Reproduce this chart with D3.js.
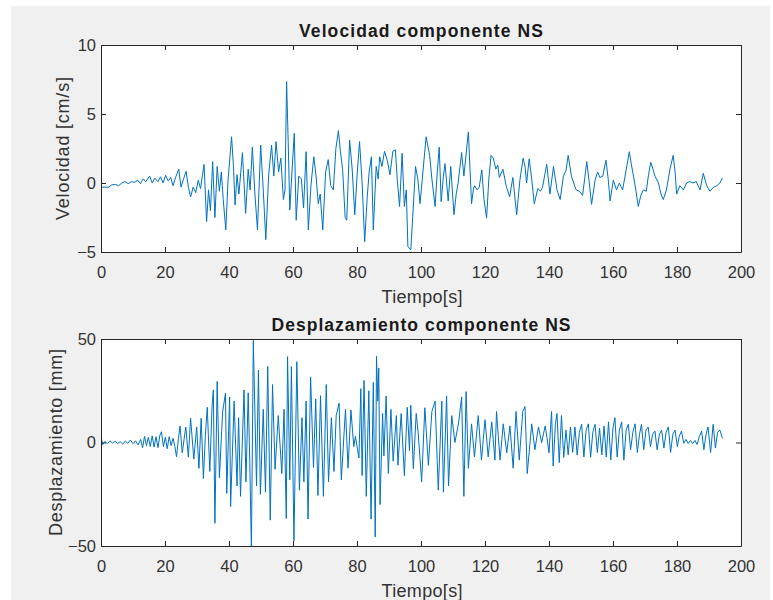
<!DOCTYPE html>
<html>
  <head>
    <meta charset=utf-8 />
    <title>Velocidad y desplazamiento NS</title>
    <script src="https://cdnjs.cloudflare.com/ajax/libs/d3/7.8.5/d3.min.js"></script>
    <style>
      body { margin: 0; background: #fff; }
      text { font-family: "Liberation Sans", Arial, sans-serif; fill: #262626; }
    </style>
  </head>
  <body>
    <div id="main-container"></div>
    <script>

  // velocidad componente NS (t en s, v en cm/s)
  var velT = [0, 2.5, 3.2, 4.5, 5.5, 6.5, 7.5, 8.5, 9.5, 10.5, 11.5, 12.3, 13.2, 14.0, 15.2, 16.0, 16.8, 17.8, 18.6, 19.4,
    20.2, 21.0, 21.8, 22.5, 23.3, 24.3, 25.0, 25.8, 26.6, 27.3, 28.0, 28.8, 29.6, 30.4, 31.1, 32.2, 33.0, 33.6, 34.2, 34.9,
    35.6, 36.3, 37.0, 37.6, 38.2, 39.0, 39.7, 40.8, 41.4, 41.9, 42.5, 43.1, 44.2, 45.2, 46.0, 46.6, 47.3, 48.1, 48.9, 49.9,
    50.7, 51.5, 52.4, 53.3, 54.0, 54.7, 55.5, 56.2, 57.0, 57.5, 58.0, 58.5, 59.0, 59.6, 60.4, 61.0, 61.8, 62.6, 63.3, 64.1,
    64.8, 65.6, 66.5, 67.2, 67.9, 68.5, 69.3, 70.2, 71.0, 71.8, 72.6, 73.4, 74.2, 74.8, 75.5, 76.3, 76.8, 77.7, 78.5, 79.3,
    80.1, 80.8, 81.6, 82.4, 83.2, 83.8, 84.5, 85.1, 86.0, 86.6, 87.1, 87.8, 88.6, 89.5, 90.3, 91.2, 92.0, 92.6, 93.3, 94.1,
    94.8, 95.4, 95.9, 96.8, 97.5, 98.3, 99.0, 99.7, 100.6, 101.6, 102.7, 103.4, 104.4, 105.0, 105.7, 106.3, 107.0, 107.5, 108.5, 109.3,
    110.3, 111.0, 111.6, 112.7, 113.4, 114.8, 115.8, 116.4, 116.8, 117.5, 118.2, 119.0, 119.7, 120.5, 121.2, 121.9, 122.6, 123.4, 124.0, 124.5,
    125.6, 126.6, 127.7, 128.7, 129.9, 130.9, 131.9, 132.5, 133.0, 133.8, 134.5, 135.4, 136.5, 137.3, 138.0, 138.6, 139.3, 140.3, 141.4, 142.5,
    143.5, 144.5, 145.3, 146.0, 147.0, 148.0, 148.5, 149.5, 150.5, 151.2, 151.8, 152.5, 153.3, 154.4, 155.2, 155.9, 156.8, 157.8, 158.5, 159.1,
    160.1, 161.1, 162.0, 163.0, 164.0, 165.1, 165.7, 166.4, 167.2, 167.9, 168.7, 169.5, 170.4, 171.1, 171.8, 172.5, 173.1, 174.2, 175.0, 175.7,
    176.7, 177.8, 178.8, 179.4, 179.9, 180.9, 182.0, 183.0, 184.0, 185.0, 186.0, 187.2, 188.2, 189.3, 190.3, 191.4, 192.4, 193.4, 194.2];
  var velV = [-0.3, -0.3, -0.15, -0.1, -0.2, 0.0, 0.1, -0.05, 0.1, 0.05, 0.2, -0.05, 0.3, 0.1, 0.5, 0.0, 0.35, 0.1, 0.45, 0.0,
    0.55, 0.15, 0.4, -0.2, 0.4, 1.0, -0.3, 0.3, 0.85, -0.3, -1.0, -0.3, -0.7, 0.2, -0.4, 1.35, -2.8, -0.5, -2.0, 1.55,
    -2.5, 1.2, -0.6, 0.8, -1.2, -3.4, 0.2, 3.35, 1.2, -1.6, 0.6, -0.8, 2.2, -2.2, 1.0, -0.5, 2.6, -0.8, -3.4, 2.75,
    -0.5, -4.1, 0.6, 2.75, 0.5, 3.0, 0.8, 1.8, -1.2, -0.5, 7.35, 3.0, -1.95, 0.5, 3.6, -2.7, 0.5, 0.3, -1.8, 2.27,
    -3.4, -0.2, 1.9, 0.5, -1.5, -0.8, -3.4, 0.8, 1.7, -0.2, -0.5, 2.5, 3.8, 2.3, 1.0, -2.5, -2.7, 3.1, 1.0, -2.3,
    0.8, 3.0, 0.0, -4.25, -1.0, 0.8, 1.9, -3.4, 1.2, 0.3, 1.9, 1.2, 2.3, 1.6, 0.6, 2.3, 2.4, 0.2, -1.7, 2.15,
    -1.7, -0.5, -4.6, -4.85, -2.1, 1.2, 0.3, -1.5, 0.8, 3.35, 2.0, 0.3, -1.7, 0.5, 2.6, -1.35, 0.5, 1.4, -1.3, 1.2,
    -2.3, -0.8, 0.0, 2.2, 0.5, 3.7, -1.5, -0.4, -0.2, -0.5, -0.3, 0.95, -1.2, -2.55, 0.3, 2.0, 1.8, 1.0, 1.3, 0.4,
    1.0, -0.2, -1.0, 0.4, -2.3, 0.2, 1.8, 1.2, 0.0, 1.75, 0.5, -1.5, -0.4, -0.6, -0.3, 0.5, 1.35, -0.8, 1.2, -0.5,
    -1.2, 0.5, 0.9, 2.0, 0.5, -0.2, -0.5, -0.6, -0.9, 0.4, 1.55, 0.2, -1.55, 0.2, 0.8, 0.4, 0.5, 1.65, 0.3, -1.3,
    0.2, -0.5, 0.0, -0.5, 0.8, 2.27, 1.4, 0.5, -0.6, -1.7, -0.9, -0.5, -0.6, 0.6, 1.5, 1.0, 0.5, 0.0, -0.8, -1.2,
    -0.5, 1.0, 2.0, 0.8, -0.8, -0.2, -0.5, 0.0, 0.1, 0.0, 0.1, -0.5, 0.7, -0.2, -0.6, -0.3, -0.2, 0.0, 0.35];

  // desplazamiento componente NS (t en s, d en mm)
  var despT = [0, 0.5, 1.2, 2.0, 2.8, 3.6, 4.4, 5.2, 6.0, 6.8, 7.6, 8.4, 9.2, 10.0, 10.8, 11.6, 12.4, 13.0, 13.6, 14.2,
    14.8, 15.4, 16.0, 16.6, 17.2, 17.8, 18.4, 18.9, 19.5, 20.1, 20.7, 21.3, 21.9, 22.5, 23.1, 23.6, 24.2, 24.7, 25.4, 26.0,
    26.5, 27.3, 28.0, 29.0, 29.9, 30.6, 31.3, 32.0, 32.6, 33.2, 34.0, 34.7, 35.1, 35.6, 36.3, 37.0, 38.0, 38.9, 39.3, 40.2,
    40.5, 41.6, 42.5, 43.0, 43.6, 44.7, 45.3, 46.0, 46.5, 47.0, 47.6, 48.6, 49.2, 49.8, 50.7, 51.4, 52.1, 52.9, 53.6, 54.4,
    55.4, 56.5, 57.2, 57.9, 58.3, 59.0, 59.5, 60.3, 61.2, 62.0, 62.8, 63.4, 64.1, 64.7, 65.5, 66.4, 67.1, 67.8, 68.6, 69.5,
    70.4, 71.1, 72.0, 72.8, 73.5, 74.4, 75.1, 76.4, 77.2, 78.1, 79.0, 79.5, 80.6, 81.2, 81.6, 82.2, 82.9, 83.7, 84.4, 85.1,
    85.7, 86.1, 86.5, 86.8, 87.2, 88.0, 88.4, 89.1, 89.8, 90.6, 91.3, 92.3, 92.8, 93.8, 94.8, 95.7, 96.4, 96.8, 97.6, 98.5,
    99.1, 100.2, 101.2, 102.3, 103.4, 104.4, 105.4, 106.5, 107.0, 108.0, 108.6, 109.6, 110.6, 111.7, 112.7, 113.4, 114.1, 114.8, 115.8, 116.7,
    117.9, 118.9, 120.0, 121.0, 122.1, 123.1, 123.6, 124.7, 125.7, 126.8, 127.8, 128.8, 129.7, 130.7, 131.8, 132.5, 133.2, 134.6, 135.6, 136.7,
    137.7, 138.8, 139.4, 140.0, 140.8, 141.3, 142.0, 142.5, 143.2, 143.9, 144.6, 145.3, 146.0, 146.7, 147.4, 148.1, 148.8, 149.5, 150.2, 150.9,
    151.6, 152.3, 153.0, 153.7, 154.4, 155.1, 155.8, 156.5, 157.2, 157.9, 158.6, 159.3, 160.0, 160.6, 161.3, 162.0, 162.7, 163.4, 164.1, 164.8,
    165.5, 166.2, 166.9, 167.6, 168.3, 168.9, 169.6, 170.3, 171.0, 171.7, 172.4, 173.1, 173.8, 174.5, 175.2, 175.9, 176.6, 177.3, 178.0, 178.7,
    179.4, 180.1, 180.7, 181.4, 182.1, 182.8, 183.5, 184.2, 184.9, 185.6, 186.3, 187.0, 187.7, 188.4, 189.1, 189.7, 190.5, 191.3, 192.0, 192.7,
    193.4, 194.2];
  var despV = [3, -1, 0.5, -0.5, 0.8, -0.3, 0.6, -0.5, 0.4, -0.8, 0.7, -0.4, 1.2, -0.6, 0.8, -1.2, 1.5, -2.5, 3.0, -1.5,
    2.5, -2.0, 3.2, -2.2, 2.8, -2.5, 3.5, 5.2, -2.0, 2.5, -3.0, 2.8, -1.5, 2.0, -2.0, -6.9, 2.0, 8.0, -5.0, 2.0,
    7.5, -7.0, 11.7, -8.0, 7.5, -12.5, 11.7, -17.4, 3.0, 17.0, -14.0, 17.5, 25.4, -39.0, 29.5, -17.0, 14.7, 23.8, -24.6, 22.0,
    -31.0, 20.0, -21.0, 12.0, -26.0, 25.4, -19.0, 24.0, -10.0, -52.0, 49.3, -21.0, 35.0, -25.0, 16.0, -24.0, 36.7, -37.5, 28.0, -13.0,
    13.0, -15.0, 16.0, -36.7, 41.5, -18.0, 36.7, -47.4, 39.0, -23.0, 12.0, -19.0, 20.0, -37.0, 31.7, -12.0, 21.0, -25.6, 22.6, -26.0,
    28.0, -19.0, 12.0, -14.0, 13.0, 19.0, -18.0, 16.0, -12.4, 15.7, -2.0, 3.0, -7.5, 26.0, -16.0, 30.0, -26.0, 25.0, -37.0, 29.0,
    -45.6, 41.6, 20.0, 36.0, -30.0, 14.0, -6.5, 22.5, -15.0, 16.0, -9.0, 13.0, -11.0, 14.0, -16.0, 17.0, -4.0, 18.0, -12.6, 14.0,
    5.0, -19.0, 16.8, -11.0, 15.0, 20.0, -23.0, 20.0, -24.0, 22.5, -21.0, 13.0, 0.0, 9.0, 22.0, -26.0, 24.6, -12.5, 9.0, -7.0,
    13.0, -8.5, 11.0, -7.0, 10.0, -8.5, 15.0, -8.5, 9.0, -5.0, 8.0, -12.4, 15.0, -8.5, 15.0, 17.4, -15.0, 9.0, -3.5, 7.5,
    0.0, 8.0, 2.0, -5.0, 15.0, -11.4, 9.0, 14.0, -9.7, 13.0, -7.2, 6.0, -6.0, 7.5, -4.8, 7.5, -6.0, 5.0, 8.8, -7.0,
    6.0, 9.0, -7.2, 5.0, 8.8, -4.8, 7.0, -6.0, 8.0, -7.0, 10.0, -8.5, 7.0, 12.0, -7.0, 6.0, 10.0, -8.5, 6.0, 8.8,
    -3.5, 5.0, 9.0, -4.8, 4.0, 8.8, -3.5, 6.0, 7.5, -2.0, 4.0, 5.5, -3.5, 4.0, 6.0, -2.7, 5.0, 7.5, -4.8, 4.0,
    6.0, -2.0, 3.0, 5.5, -0.4, 1.5, -0.5, 1.0, -0.5, 1.0, -1.0, 3.0, 5.5, -3.5, 4.0, 7.5, -4.8, 8.8, -2.7, 5.0,
    6.0, 2.0];

  var xTicks = [0, 20, 40, 60, 80, 100, 120, 140, 160, 180, 200];
  var velTicks = [-5, 0, 5, 10];
  var despTicks = [-50, 0, 50];

  var width = 773, height = 600;
  var axColor = '#262626';
  var textColor = '#333333';
  var lineColor = '#0072bd';

  var svg = d3.select('#main-container').append('svg')
    .attr('width', width)
    .attr('height', height);

  // fondo gris de la figura
  svg.append('rect')
    .attr('x', 11).attr('y', 6)
    .attr('width', 759).attr('height', 594)
    .attr('fill', '#f0f0f0');

  var xScale = d3.scaleLinear().domain([0, 200]).range([101, 741]);

  function subplot(opts){
    var yScale = d3.scaleLinear().domain(opts.yDomain).range([opts.bottom, opts.top]);
    var g = svg.append('g');

    g.append('rect')
      .attr('x', 101).attr('y', opts.top)
      .attr('width', 640).attr('height', opts.bottom - opts.top)
      .attr('fill', '#fff');

    svg.append('clipPath').attr('id', opts.id)
      .append('rect')
      .attr('x', 101).attr('y', opts.top)
      .attr('width', 640).attr('height', opts.bottom - opts.top);

    var data = opts.t.map(function(t, i){ return [t, opts.v[i]]; });
    var line = d3.line()
      .x(function(d){ return xScale(d[0]); })
      .y(function(d){ return yScale(d[1]); });

    g.append('path')
      .datum(data)
      .attr('clip-path', 'url(#' + opts.id + ')')
      .attr('d', line)
      .attr('fill', 'none')
      .attr('stroke', lineColor)
      .attr('stroke-width', 1)
      .attr('stroke-linejoin', 'round');

    // ejes con ticks hacia adentro en los cuatro lados
    var xb = g.append('g').attr('transform', 'translate(0,' + opts.bottom + ')')
      .call(d3.axisBottom(xScale).tickValues(xTicks).tickSizeInner(-5).tickSizeOuter(0).tickPadding(14));
    var xt = g.append('g').attr('transform', 'translate(0,' + opts.top + ')')
      .call(d3.axisTop(xScale).tickValues(xTicks).tickSizeInner(-5).tickSizeOuter(0).tickFormat(''));
    var yl = g.append('g').attr('transform', 'translate(101,0)')
      .call(d3.axisLeft(yScale).tickValues(opts.ticks).tickSizeInner(-5).tickSizeOuter(0).tickPadding(5));
    var yr = g.append('g').attr('transform', 'translate(741,0)')
      .call(d3.axisRight(yScale).tickValues(opts.ticks).tickSizeInner(-5).tickSizeOuter(0).tickFormat(''));

    [xb, xt, yl, yr].forEach(function(a){
      a.selectAll('path').attr('stroke', axColor).attr('stroke-width', 1);
      a.selectAll('line').attr('stroke', axColor).attr('stroke-width', 1);
      a.selectAll('text').attr('font-size', 16.5).attr('font-family', null).style('fill', textColor);
    });

    g.append('text')
      .attr('x', 421).attr('y', opts.top - 8.5)
      .attr('text-anchor', 'middle')
      .attr('font-size', 17.5).attr('font-weight', 'bold')
      .attr('textLength', opts.titleLen).attr('lengthAdjust', 'spacing')
      .style('fill', '#1a1a1a')
      .text(opts.title);

    g.append('text')
      .attr('x', 422).attr('y', opts.bottom + 51)
      .attr('text-anchor', 'middle')
      .attr('font-size', 18)
      .attr('textLength', 81).attr('lengthAdjust', 'spacing')
      .style('fill', textColor)
      .text('Tiempo[s]');

    g.append('text')
      .attr('transform', 'translate(' + opts.ylabelX + ',' + ((opts.top + opts.bottom) / 2) + ') rotate(-90)')
      .attr('text-anchor', 'middle')
      .attr('font-size', 18)
      .attr('textLength', opts.ylabelLen).attr('lengthAdjust', 'spacing')
      .style('fill', textColor)
      .text(opts.ylabel);
  }

  subplot({id: 'clipVel', top: 45, bottom: 252, yDomain: [-5, 10], ticks: velTicks,
    t: velT, v: velV, title: 'Velocidad componente NS', titleLen: 244,
    ylabel: 'Velocidad [cm/s]', ylabelLen: 143, ylabelX: 69});

  subplot({id: 'clipDesp', top: 339, bottom: 546, yDomain: [-50, 50], ticks: despTicks,
    t: despT, v: despV, title: 'Desplazamiento componente NS', titleLen: 299,
    ylabel: 'Desplazamiento [mm]', ylabelLen: 187, ylabelX: 62});

</script>
  </body>
</html>
